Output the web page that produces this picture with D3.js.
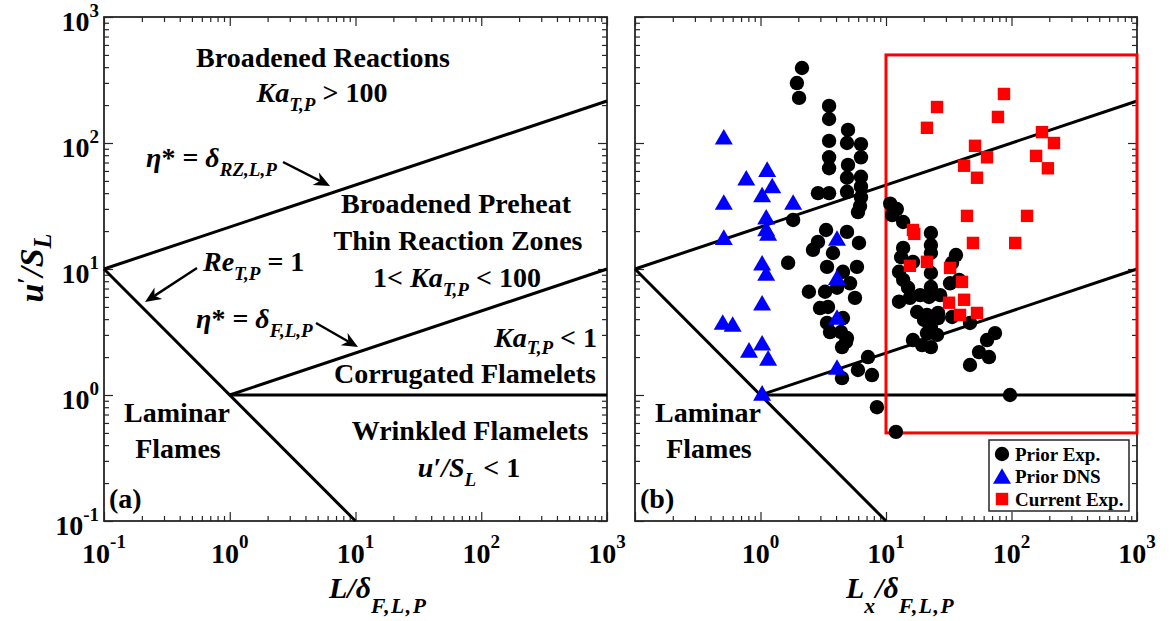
<!DOCTYPE html>
<html>
<head>
<meta charset="utf-8">
<script src="https://cdn.jsdelivr.net/npm/d3@7"></script>
<style>
  body { margin: 0; background: #fff; }
  svg { display: block; font-family: "Liberation Serif", "Times New Roman", serif; font-weight: bold; }
</style>
</head>
<body>
<svg id="chart" width="1175" height="621"></svg>
<script>
// ---- axis ranges and tick labels ----
const xDomain = [0.1, 1000];
const yDomain = [0.1, 1000];
const decadeTicks = [0.1, 1, 10, 100, 1000];
const tickExponents = ["-1", "0", "1", "2", "3"];

// ---- regime boundaries [L/delta, u'/S_L] ----
const kaHundredLine = [[0.1, 10], [1000, 215.4]];   // eta* = delta_RZ
const kaOneLine     = [[1, 1], [1000, 10]];         // eta* = delta_F
const reOneLine     = [[0.1, 10], [10, 0.1]];       // Re_T = 1
const uOverSOneLine = [[1, 1], [1000, 1]];          // u'/S_L = 1

// ---- current-campaign envelope ----
const currentRangeX = [10, 1000];
const currentRangeY = [0.5, 500];

// ---- prior experiments [Lx/delta, u'/S_L] ----
const priorExp = [
  [2.14, 394], [1.95, 299], [2.03, 228],
  [3.52, 197], [3.52, 155], [4.98, 127], [3.52, 104], [4.89, 100], [6.32, 98],
  [6.32, 77], [3.52, 77], [3.52, 63], [4.98, 67], [4.89, 53], [6.32, 54],
  [2.87, 40], [3.52, 40], [4.89, 41], [6.32, 45], [6.32, 37], [6.21, 31.6], [5.98, 28.3],
  [10.8, 33], [1.82, 24.5], [3.33, 20.4], [4.89, 19.7], [2.87, 16.4], [2.62, 14.2], [6.09, 16.1],
  [3.78, 13.4], [3.39, 10.4], [1.66, 11.2], [5.87, 10.4], [4.54, 9.5], [5.17, 7.7], [5.66, 5.9],
  [2.43, 6.6], [3.27, 6.6], [4.07, 7.1], [2.98, 4.9], [3.45, 5.0], [4.54, 4.08], [3.39, 3.73],
  [3.58, 3.16], [4.38, 3.16], [4.89, 2.83], [4.80, 2.64], [4.46, 2.40], [7.19, 2.00],
  [5.98, 1.58], [7.73, 1.44], [4.46, 1.36],
  [8.47, 0.80], [12.0, 0.51], [97.3, 1.0],
  [12.2, 29.9], [11.2, 26.8], [13.7, 23.6], [22.8, 19.3], [22.8, 15.5], [22.8, 13.4],
  [13.7, 14.7], [13.2, 12.4], [12.7, 9.5], [13.7, 8.2], [22.8, 9.3], [22.8, 7.2],
  [36.1, 12.9], [33.6, 11.2], [32.4, 7.7], [38.2, 8.2],
  [12.7, 5.5], [15.5, 5.9], [18.7, 6.2], [22.0, 6.0], [17.7, 4.56], [21.2, 4.32], [26.0, 4.48],
  [20.1, 3.94], [22.8, 3.47], [21.2, 3.10], [16.4, 2.73], [19.4, 2.49], [22.8, 2.40],
  [26.0, 4.08], [33.6, 4.16], [46.7, 3.73], [73.9, 3.10], [63.8, 2.73], [55.1, 2.19],
  [66.2, 2.00], [46.7, 1.73], [16.4, 11.4], [15.0, 7.1], [27.0, 6.2], [25.5, 3.0]
];

// ---- prior DNS ----
const priorDNS = [
  [0.51, 112], [1.13, 62], [0.77, 53], [1.24, 46], [1.03, 39], [0.51, 34], [1.82, 34],
  [1.11, 26], [1.11, 21], [1.15, 19.3], [0.51, 17.9], [1.03, 11.2], [1.11, 9.3],
  [1.03, 5.4], [0.50, 3.8], [0.60, 3.66], [1.03, 2.6], [0.81, 2.28], [1.15, 1.97],
  [1.03, 1.04], [4.07, 17.6], [4.07, 8.6], [4.07, 4.16], [4.07, 1.67]
];

// ---- current experiments ----
const currentExp = [
  [87.1, 245], [25.5, 193], [78.0, 161], [21.2, 132], [175, 122], [218, 100],
  [51.2, 95], [63.8, 77], [157, 79], [41.9, 66], [195, 63], [53.1, 53],
  [44.2, 26.4], [133, 26.4], [49.3, 16.1], [107, 16.1],
  [16.4, 20.4], [16.8, 19.0], [15.5, 10.6], [21.2, 11.4], [32.4, 10.2], [40.3, 7.9],
  [31.8, 5.4], [41.9, 5.7], [38.9, 4.32], [53.1, 4.48]
];

const legendLabels = ["Prior Exp.", "Prior DNS", "Current Exp."];

// ---- layout ----
const svg = d3.select("#chart");
const plotTop = 17, plotBottom = 521;
const panels = [
  { left: 104, right: 607 },
  { left: 635, right: 1137 }
];
const axisColor = "#262626";
const FS = 28;

// rich text with italic / subscript / superscript runs
function rich(g, x, y, parts, opt = {}) {
  const size = opt.size || FS;
  const subShift = opt.subShift != null ? opt.subShift : size * 0.32;
  const supShift = opt.supShift != null ? opt.supShift : -size * 0.42;
  const small = opt.small || 0.68;
  const t = g.append("text").attr("x", x).attr("y", y)
    .attr("text-anchor", opt.anchor || "start").attr("font-size", size);
  if (opt.transform) t.attr("transform", opt.transform);
  let cur = 0;
  parts.forEach(([s, f = ""]) => {
    const target = f.includes("b") ? subShift : f.includes("p") ? supShift : 0;
    const ts = t.append("tspan").text(s).attr("dy", target - cur);
    cur = target;
    if (f.includes("b") || f.includes("p")) ts.attr("font-size", size * small);
    if (f.includes("i")) ts.attr("font-style", "italic");
    if (f.includes("s")) ts.attr("letter-spacing", 1.5);
  });
  return t;
}

function arrow(g, x1, y1, x2, y2) {
  const dx = x2 - x1, dy = y2 - y1, len = Math.hypot(dx, dy);
  const ux = dx / len, uy = dy / len, nx = -uy, ny = ux;
  const L = 16, w = 7;
  const bx = x2 - L * ux, by = y2 - L * uy;
  const mx = x2 - 0.7 * L * ux, my = y2 - 0.7 * L * uy;
  g.append("line").attr("x1", x1).attr("y1", y1).attr("x2", mx).attr("y2", my)
    .attr("stroke", "#000").attr("stroke-width", 2.4);
  g.append("path")
    .attr("d", `M${x2},${y2}L${bx + w * nx},${by + w * ny}L${mx},${my}L${bx - w * nx},${by - w * ny}Z`)
    .attr("fill", "#000");
}

function frame(g, x, y, showLeftLabels) {
  const majors = decadeTicks;
  const minors = x.ticks().filter(v => !majors.some(m => Math.abs(Math.log10(v) - Math.log10(m)) < 1e-6));
  const [l, r] = x.range();
  const defs = [
    [d3.axisBottom(x), `translate(0,${plotBottom})`],
    [d3.axisTop(x), `translate(0,${plotTop})`],
    [d3.axisLeft(y), `translate(${l},0)`],
    [d3.axisRight(y), `translate(${r},0)`]
  ];
  defs.forEach(([ax, tr]) => {
    [[minors, -5], [majors, -9]].forEach(([vals, size]) => {
      g.append("g").attr("transform", tr)
        .call(ax.tickValues(vals).tickSize(size).tickSizeOuter(0).tickFormat(""))
        .call(s => s.select(".domain").remove())
        .call(s => s.selectAll("line").attr("stroke", axisColor).attr("stroke-width", 1.2));
    });
  });
  g.append("rect").attr("x", l).attr("y", plotTop).attr("width", r - l).attr("height", plotBottom - plotTop)
    .attr("fill", "none").attr("stroke", axisColor).attr("stroke-width", 1.8);
  // tick labels (the right panel omits its first x label and all y labels)
  decadeTicks.forEach((v, i) => {
    if (!showLeftLabels && i === 0) return;
    rich(g, x(v), plotBottom + 42, [["10"], [tickExponents[i], "p"]], { anchor: "middle", supShift: -15 });
  });
  if (showLeftLabels) {
    decadeTicks.forEach((v, i) => {
      rich(g, l - 5, y(v) + 14, [["10"], [tickExponents[i], "p"]], { anchor: "end", supShift: -14 });
    });
  }
}

function boundaries(g, x, y) {
  const line = d3.line().x(d => x(d[0])).y(d => y(d[1]));
  [kaHundredLine, kaOneLine, reOneLine, uOverSOneLine].forEach(seg => {
    g.append("path").attr("d", line(seg)).attr("fill", "none")
      .attr("stroke", "#000").attr("stroke-width", 3);
  });
}

const trianglePath = "M0,-7.8L9,7.8L-9,7.8Z";

panels.forEach((p, idx) => {
  const g = svg.append("g");
  const x = d3.scaleLog().domain(xDomain).range([p.left, p.right]);
  const y = d3.scaleLog().domain(yDomain).range([plotBottom, plotTop]);
  frame(g, x, y, idx === 0);
  boundaries(g, x, y);

  const L = p.left;
  if (idx === 0) {
    rich(g, L + 219, 67, [["Broadened Reactions"]], { anchor: "middle" });
    rich(g, L + 218, 102, [["Ka", "i"], ["T,P", "ib"], [" > 100"]], { anchor: "middle" });
    rich(g, L + 42, 167, [["η", "i"], ["* = "], ["δ", "i"], ["RZ,L,P", "ib"]]);
    arrow(g, L + 179, 162, L + 226, 186);
    rich(g, L + 352, 213, [["Broadened Preheat"]], { anchor: "middle" });
    rich(g, L + 354, 250, [["Thin Reaction Zones"]], { anchor: "middle" });
    rich(g, L + 353, 287, [["1< "], ["Ka", "i"], ["T,P", "ib"], [" < 100"]], { anchor: "middle" });
    rich(g, L + 99, 271, [["Re", "i"], ["T,P", "ib"], [" = 1"]]);
    arrow(g, L + 93, 268, L + 41, 302);
    rich(g, L + 92, 328, [["η", "i"], ["* = "], ["δ", "i"], ["F,L,P", "ib"]]);
    arrow(g, L + 212, 323, L + 254, 347);
    rich(g, L + 493, 347, [["Ka", "i"], ["T,P", "ib"], [" < 1"]], { anchor: "end", subShift: 7 });
    rich(g, L + 361, 383, [["Corrugated Flamelets"]], { anchor: "middle" });
    rich(g, L + 366, 440, [["Wrinkled Flamelets"]], { anchor: "middle" });
    rich(g, L + 365, 477, [["u′/S", "i"], ["L", "ib"], [" < 1"]], { anchor: "middle" });
  } else {
    // current-campaign envelope
    g.append("rect")
      .attr("x", x(currentRangeX[0])).attr("y", y(currentRangeY[1]))
      .attr("width", x(currentRangeX[1]) - x(currentRangeX[0]))
      .attr("height", y(currentRangeY[0]) - y(currentRangeY[1]))
      .attr("fill", "none").attr("stroke", "#ff0000").attr("stroke-width", 3);

    g.append("g").selectAll("circle").data(priorExp).join("circle")
      .attr("cx", d => x(d[0])).attr("cy", d => y(d[1])).attr("r", 7.2).attr("fill", "#000");
    g.append("g").selectAll("path").data(priorDNS).join("path")
      .attr("d", trianglePath)
      .attr("transform", d => `translate(${x(d[0])},${y(d[1])})`).attr("fill", "#0000ff");
    g.append("g").selectAll("rect").data(currentExp).join("rect")
      .attr("x", d => x(d[0]) - 6.2).attr("y", d => y(d[1]) - 6.2)
      .attr("width", 12.4).attr("height", 12.4).attr("fill", "#ff0000");

    // legend
    const lg = g.append("g");
    lg.append("rect").attr("x", 989).attr("y", 440).attr("width", 140).attr("height", 71)
      .attr("fill", "#fff").attr("stroke", axisColor).attr("stroke-width", 1.5);
    const rowsY = [454, 476, 499];
    legendLabels.forEach((lab, i) => {
      const cy = rowsY[i], cx = 1002;
      if (i === 0) lg.append("circle").attr("cx", cx).attr("cy", cy).attr("r", 7.2).attr("fill", "#000");
      if (i === 1) lg.append("path").attr("d", trianglePath).attr("transform", `translate(${cx},${cy})`).attr("fill", "#0000ff");
      if (i === 2) lg.append("rect").attr("x", cx - 6.2).attr("y", cy - 6.2).attr("width", 12.4).attr("height", 12.4).attr("fill", "#ff0000");
      lg.append("text").attr("x", 1015).attr("y", cy + 6.5).attr("font-size", 19).text(lab);
    });
  }
  rich(g, L + 73, 422, [["Laminar"]], { anchor: "middle" });
  rich(g, L + 74, 458, [["Flames"]], { anchor: "middle" });
  rich(g, L + 5, 508, [[idx === 0 ? "(a)" : "(b)"]]);
});

// axis titles
rich(svg, 329, 598, [["L/δ", "i"], ["F,L,P", "ibs"]], { size: 30, subShift: 15, small: 0.72 });
rich(svg, 846, 598, [["L", "i"], ["x", "ib"], ["/δ", "i"], ["F,L,P", "ibs"]], { size: 30, subShift: 15, small: 0.72 });
rich(svg, 0, 0, [["u", "i"], ["′", "p"], ["/S", "i"], ["L", "ib"]],
  { size: 34, anchor: "middle", transform: "translate(43,268) rotate(-90)", supShift: -8, subShift: 8, small: 0.72 });
</script>
</body>
</html>
